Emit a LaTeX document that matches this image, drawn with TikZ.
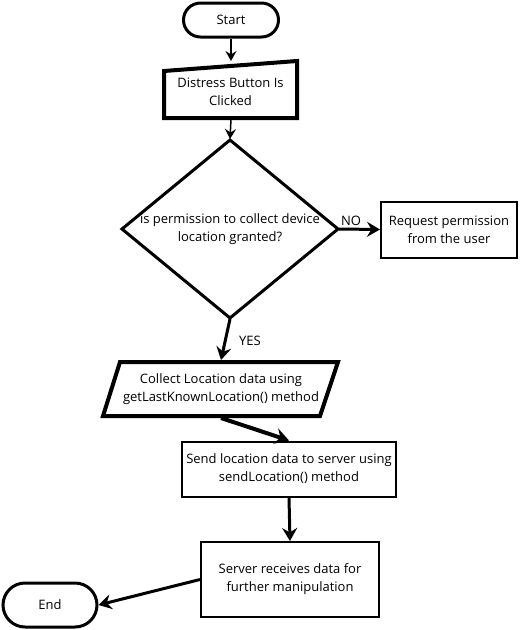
\documentclass[tikz,border=0pt]{standalone}
\usepackage{fontspec}
\setmainfont{Open Sans}
\usetikzlibrary{arrows.meta,shapes.misc}
\begin{document}
\begin{tikzpicture}[x=1pt,y=-1pt,
  txt/.style={font=\fontsize{13}{18}\selectfont, align=center, inner sep=0pt},
  term/.style={draw, rounded rectangle, txt},
  box/.style={draw, line width=2pt, txt},
  thinarrow/.style={line width=1.5pt, -{Stealth[length=10pt,width=11pt,inset=3.5pt]}},
  thickarrow/.style={line width=3pt, -{Stealth[length=13pt,width=15pt,inset=4.5pt]}},
  lbl/.style={font=\fontsize{13}{14}\selectfont, inner sep=0pt}
]
\useasboundingbox[fill=white] (0,0) rectangle (520,630);
% Start
\node[term, line width=3pt, minimum width=95pt, minimum height=34pt] (start) at (231,20) {Start};
% Distress (manual input)
\draw[line width=4pt, line join=miter] (164,71) -- (297,61) -- (297,118) -- (164,118) -- cycle;
\node[txt] (distress) at (230.5,92) {Distress Button Is\\Clicked};
\coordinate (distressTop) at (231,61);
\coordinate (distressBot) at (231,119);
% Diamond
\draw[line width=3pt, line join=miter] (230,140) -- (338,229) -- (230,318) -- (122,229) -- cycle;
\node[txt] (decision) at (230,229) {is permission to collect device\\location granted?};
\coordinate (dTop) at (230,139);
\coordinate (dRight) at (339,229);
\coordinate (dBottom) at (230,319);
% Request
\node[box, minimum width=136pt, minimum height=56pt] (request) at (449,229.5) {Request permission\\from the user};
% Collect (parallelogram)
\draw[line width=4pt, line join=miter] (120,362) -- (338,362) -- (320,416) -- (103,416) -- cycle;
\node[txt] (collect) at (221,389) {Collect Location data using\\getLastKnownLocation() method};
\coordinate (collectTop) at (221,360);
\coordinate (collectBot) at (221,418);
% Send
\node[box, minimum width=214pt, minimum height=55pt] (send) at (289,469) {Send location data to server using\\sendLocation() method};
% Server
\node[box, minimum width=178pt, minimum height=75pt] (server) at (290,579.5) {Server receives data for\\further manipulation};
% End
\node[term, line width=3pt, minimum width=94pt, minimum height=44pt] (end) at (50,605) {End};
% connectors
\draw[thinarrow] (start.south) -- (distressTop);
\draw[thinarrow] (distressBot) -- (dTop);
\draw[thickarrow] (dRight) -- (request.west);
\node[lbl] (no) at (351,221) {NO};
\draw[thickarrow] (dBottom) -- (collectTop);
\node[lbl] (yes) at (250,341) {YES};
\draw[line width=4pt, -{Stealth[length=14pt,width=16pt,inset=5pt]}] (collectBot) -- (send.north);
\draw[thickarrow] (send.south) -- (server.north);
\draw[thickarrow] (server.west) -- (end.east);
\end{tikzpicture}
\end{document}
